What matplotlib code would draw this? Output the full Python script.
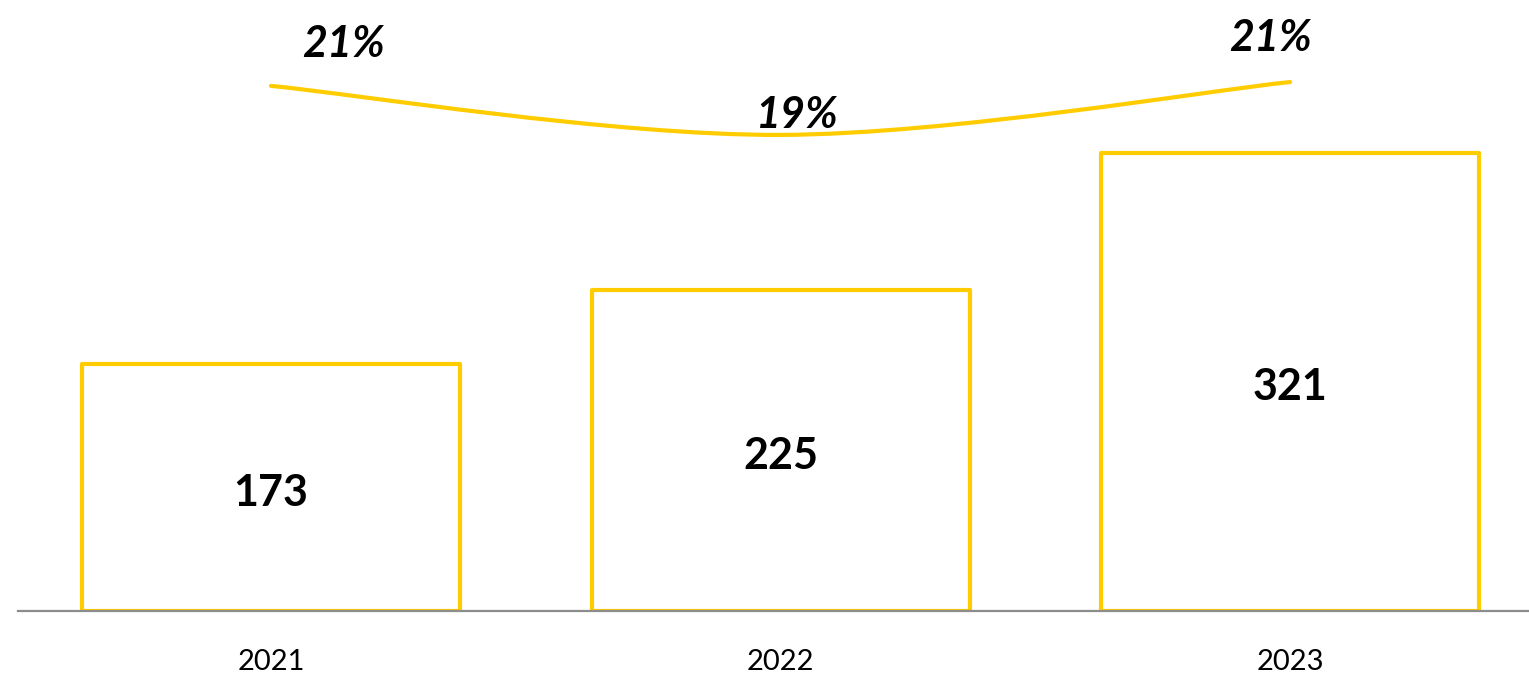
import matplotlib
matplotlib.use("Agg")
import matplotlib.pyplot as plt
from matplotlib.path import Path
from matplotlib.patches import PathPatch

plt.rcParams["font.family"] = ["Lato", "DejaVu Sans"]

# Data
years = ["2021", "2022", "2023"]
values = [173, 225, 321]
margins = [0.209, 0.190, 0.2105]
margin_labels = ["21%", "19%", "21%"]

YELLOW = "#FFCC00"
GRID_GREY = "#8C8C8C"

W, H, DPI = 1529, 673, 100
fig = plt.figure(figsize=(W / DPI, H / DPI), dpi=DPI)

# axes rectangle in pixels: left 18, baseline at y=611, top at 0
left_px, base_px = 18, 611
ax = fig.add_axes([left_px / W, (H - base_px) / H, (W - left_px) / W, base_px / H])
ax2 = ax.twinx()
ax.set_zorder(1)
ax.patch.set_visible(False)
ax2.set_zorder(0)

x = list(range(len(years)))
bars = ax.bar(x, values, width=0.742, facecolor="white", edgecolor=YELLOW,
              linewidth=3.0, zorder=2, joinstyle="round")

ax.set_xlim(-0.4966, 2.469)
ax.set_ylim(0, 427.9)
ax.set_xticks(x, years, fontsize=21)
ax.tick_params(axis="x", length=0, pad=27)
ax.set_yticks([])
for side in ["top", "right", "left"]:
    ax.spines[side].set_visible(False)
ax.spines["bottom"].set_color(GRID_GREY)
ax.spines["bottom"].set_linewidth(1.6)
ax.spines["bottom"].set_zorder(3)

for b, v in zip(bars, values):
    ax.annotate(str(v), xy=(b.get_x() + b.get_width() / 2, v / 2), xytext=(0, -4),
                textcoords="offset points", ha="center", va="center",
                fontsize=31, fontweight="bold", color="black", zorder=4)

# Secondary axis: smoothed margin line
ax2.set_ylim(0.00543, 0.2423)
ax2.set_yticks([])
for s in ax2.spines.values():
    s.set_visible(False)

pts = list(zip(x, margins))
verts = [pts[0]]
codes = [Path.MOVETO]
for i in range(len(pts) - 1):
    p_prev = pts[i - 1] if i > 0 else pts[i]
    p0, p1 = pts[i], pts[i + 1]
    p_next = pts[i + 2] if i + 2 < len(pts) else pts[i + 1]
    c1 = (p0[0] + (p1[0] - p_prev[0]) / 6, p0[1] + (p1[1] - p_prev[1]) / 6)
    c2 = (p1[0] - (p_next[0] - p0[0]) / 6, p1[1] - (p_next[1] - p0[1]) / 6)
    verts += [c1, c2, p1]
    codes += [Path.CURVE4] * 3
ax2.add_patch(PathPatch(Path(verts, codes), facecolor="none", edgecolor=YELLOW,
                        linewidth=3.0, capstyle="round", zorder=2))

# label offsets in points (labels were placed by hand in the original)
offsets = [(52, 30), (12, 14), (-14, 32)]
for xi, m, lab, (dx, dy) in zip(x, margins, margin_labels, offsets):
    ax.annotate(lab, xy=(xi, m), xycoords=ax2.transData, xytext=(dx, dy),
                textcoords="offset points", ha="center", va="center",
                fontsize=31, fontweight="bold", fontstyle="italic", color="black",
                zorder=5)

fig.savefig("out.png", dpi=DPI)
